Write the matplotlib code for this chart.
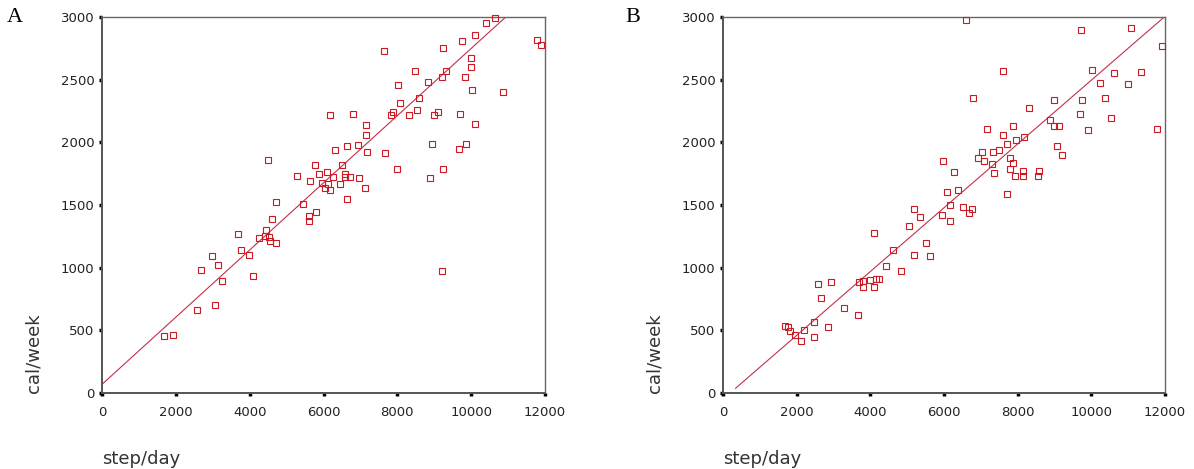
import numpy as np
import matplotlib
matplotlib.use("Agg")
import matplotlib.pyplot as plt

# panel A: step/day vs cal/week
steps_a = [7630, 9240, 9750, 10100, 10410, 10650, 11780, 11900, 10000, 10000,
           9830, 9320, 9200, 8490, 8830, 8030, 10030, 10860, 8590, 8070,
           8520, 8310, 7890, 7830, 9100, 9000, 9690, 10100, 6170, 6800,
           7140, 7140, 6940, 6630, 6310, 7170, 7660, 8930, 9670, 9860,
           8000, 9240, 8890, 5770, 6510, 6090, 5870, 5270, 5630, 6250,
           6590, 6590, 6710, 6970, 5970, 6130, 6030, 6180, 6460, 7120,
           6640, 5450, 5800, 5610, 5610, 4490, 4700, 4600, 3680, 4450,
           4250, 4420, 4530, 4560, 4700, 3770, 3970, 2990, 3130, 2670,
           3250, 4080, 2570, 3050, 1670, 1910, 9210]
cal_a = [2730, 2750, 2810, 2860, 2955, 2990, 2820, 2780, 2670, 2600,
         2525, 2570, 2525, 2570, 2480, 2455, 2415, 2405, 2350, 2315,
         2255, 2220, 2240, 2220, 2240, 2215, 2230, 2150, 2215, 2230,
         2140, 2055, 1980, 1970, 1935, 1925, 1915, 1990, 1950, 1990,
         1785, 1785, 1715, 1820, 1820, 1765, 1750, 1735, 1695, 1725,
         1750, 1725, 1725, 1715, 1675, 1670, 1635, 1620, 1665, 1635,
         1545, 1510, 1445, 1410, 1370, 1860, 1520, 1390, 1265, 1300,
         1240, 1255, 1245, 1210, 1195, 1140, 1105, 1095, 1025, 985,
         895, 935, 660, 700, 455, 460, 975]

# panel B
steps_b = [6590, 9720, 11070, 11910, 7590, 10010, 10620, 11340, 10240, 11000,
           6800, 10380, 8980, 9750, 8320, 9690, 10530, 8880, 8980, 9110,
           11790, 9920, 7170, 7870, 7590, 8170, 7950, 7720, 7490, 7330,
           7020, 6930, 7090, 7290, 7800, 7870, 7780, 7370, 7940, 8150,
           8150, 8550, 8590, 9070, 9200, 7710, 5970, 6260, 6080, 6390,
           6160, 5180, 5350, 5940, 6160, 6510, 6770, 6680, 5050, 4100,
           5520, 5180, 5620, 4620, 4420, 4830, 2590, 2930, 2660, 3690,
           3800, 3980, 4150, 4230, 3800, 4100, 3290, 3670, 2840, 2460,
           2470, 2210, 2110, 1950, 1820, 1770, 1690]
cal_b = [2980, 2895, 2915, 2770, 2570, 2575, 2550, 2565, 2475, 2465,
         2355, 2355, 2335, 2335, 2270, 2230, 2195, 2175, 2130, 2130,
         2110, 2095, 2105, 2130, 2055, 2045, 2020, 1990, 1940, 1920,
         1925, 1875, 1850, 1825, 1875, 1835, 1785, 1755, 1735, 1775,
         1735, 1735, 1770, 1970, 1900, 1585, 1850, 1765, 1605, 1620,
         1500, 1465, 1405, 1420, 1370, 1485, 1470, 1435, 1330, 1280,
         1195, 1105, 1090, 1140, 1015, 975, 870, 885, 760, 885,
         895, 900, 910, 910, 845, 845, 680, 625, 530, 565,
         445, 505, 415, 465, 495, 530, 535]

# fitted lines as drawn in the figure (intercept, slope, start x)
fit_a = (69, 0.268, 0)
fit_b = (-49, 0.2545, 340)

plt.figure(figsize=(11.94, 4.69), dpi=100)
fig = plt.gcf()
axes = [fig.add_axes([102 / 1194, 76 / 469, 443 / 1194, 376 / 469]),
        fig.add_axes([723 / 1194, 76 / 469, 442 / 1194, 376 / 469])]

red = "#cc1a24"
panels = zip(axes, [steps_a, steps_b], [cal_a, cal_b], [fit_a, fit_b], ["A", "B"])
for ax, xs, ys, fit, letter in panels:
    ax.plot(xs, ys, "s", ms=4.4, mfc="none", mec=red, mew=0.8, clip_on=False, zorder=3)
    a, b, x0 = fit
    fx = np.array([x0, 12000])
    ax.plot(fx, a + b * fx, color="#c43048", lw=0.8)
    ax.set_xlim(0, 12000)
    ax.set_ylim(0, 3000)
    ax.set_xticks(range(0, 12001, 2000))
    ax.set_yticks(range(0, 3001, 500))
    ax.tick_params(direction="out", length=2, width=2.5, color="black",
                   labelsize=9.5, labelcolor="#222222")
    ax.tick_params(axis="y", pad=3.5)
    ax.tick_params(axis="x", pad=7)
    for s in ["left", "bottom"]:
        ax.spines[s].set_color("#555555")
        ax.spines[s].set_linewidth(1.4)
    for s in ["top", "right"]:
        ax.spines[s].set_color("#666666")
        ax.spines[s].set_linewidth(1.0)
    ax.set_xlabel("step/day", loc="left", fontsize=13, color="#333333", labelpad=23)
    ax.set_ylabel("cal/week", loc="bottom", fontsize=13, color="#333333", labelpad=13)
    ax.text(-0.214 if letter == "A" else -0.22, 1.0, letter, transform=ax.transAxes,
            fontsize=16, family="Liberation Serif", ha="left", va="center")

plt.savefig("out.png")
